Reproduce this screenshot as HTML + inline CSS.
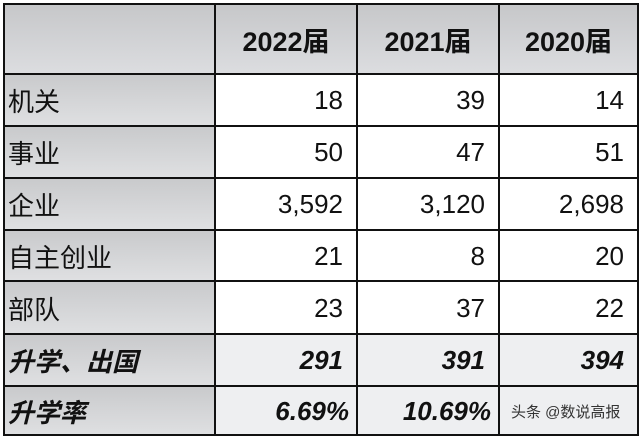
<!DOCTYPE html>
<html><head><meta charset="utf-8"><style>
body{margin:0;width:642px;height:440px;background:#fff;overflow:hidden;font-family:"Liberation Sans","Noto Sans CJK SC",sans-serif;}
.c{position:absolute;box-sizing:border-box;font-size:26px;color:#111;display:flex;align-items:center;}
.l{background:linear-gradient(#c9cacc,#dfe0e2);padding-left:4px;}
.n{justify-content:flex-end;padding-right:14px;}
.h{background:linear-gradient(#c6c7c9,#dcdde0);font-weight:bold;justify-content:center;font-size:27px;}
.g{background:#eeeff1;}
.b{font-weight:bold;font-style:italic;}
.hl{position:absolute;height:2px;background:#111;left:3px;width:636px;}
.vl{position:absolute;width:2px;background:#111;top:3px;height:433px;}
</style></head><body>
<div class="c h" style="left:4px;top:4px;width:211px;height:70px"></div>
<div class="c h" style="left:215px;top:4px;width:142px;height:70px">2022届</div>
<div class="c h" style="left:357px;top:4px;width:142px;height:70px">2021届</div>
<div class="c h" style="left:499px;top:4px;width:139px;height:70px">2020届</div>

<div class="c l" style="left:4px;top:75px;width:211px;height:51px">机关</div>
<div class="c n" style="left:215px;top:75px;width:142px;height:51px">18</div>
<div class="c n" style="left:357px;top:75px;width:142px;height:51px">39</div>
<div class="c n" style="left:499px;top:75px;width:139px;height:51px">14</div>

<div class="c l" style="left:4px;top:127px;width:211px;height:51px">事业</div>
<div class="c n" style="left:215px;top:127px;width:142px;height:51px">50</div>
<div class="c n" style="left:357px;top:127px;width:142px;height:51px">47</div>
<div class="c n" style="left:499px;top:127px;width:139px;height:51px">51</div>

<div class="c l" style="left:4px;top:179px;width:211px;height:51px">企业</div>
<div class="c n" style="left:215px;top:179px;width:142px;height:51px">3,592</div>
<div class="c n" style="left:357px;top:179px;width:142px;height:51px">3,120</div>
<div class="c n" style="left:499px;top:179px;width:139px;height:51px">2,698</div>

<div class="c l" style="left:4px;top:231px;width:211px;height:50px">自主创业</div>
<div class="c n" style="left:215px;top:231px;width:142px;height:50px">21</div>
<div class="c n" style="left:357px;top:231px;width:142px;height:50px">8</div>
<div class="c n" style="left:499px;top:231px;width:139px;height:50px">20</div>

<div class="c l" style="left:4px;top:282px;width:211px;height:52px">部队</div>
<div class="c n" style="left:215px;top:282px;width:142px;height:52px">23</div>
<div class="c n" style="left:357px;top:282px;width:142px;height:52px">37</div>
<div class="c n" style="left:499px;top:282px;width:139px;height:52px">22</div>

<div class="c l b" style="left:4px;top:335px;width:211px;height:51px">升学、出国</div>
<div class="c n g b" style="left:215px;top:335px;width:142px;height:51px">291</div>
<div class="c n g b" style="left:357px;top:335px;width:142px;height:51px">391</div>
<div class="c n g b" style="left:499px;top:335px;width:139px;height:51px">394</div>

<div class="c l b" style="left:4px;top:387px;width:211px;height:48px">升学率</div>
<div class="c n g b" style="left:215px;top:387px;width:142px;height:48px;padding-right:8px">6.69%</div>
<div class="c n g b" style="left:357px;top:387px;width:142px;height:48px;padding-right:8px">10.69%</div>
<div class="c g" style="left:499px;top:387px;width:139px;height:48px;font-size:15px;color:#333;padding-left:12px">头条 @数说高报</div>

<div class="hl" style="top:3px"></div>
<div class="hl" style="top:73px"></div>
<div class="hl" style="top:125px"></div>
<div class="hl" style="top:177px"></div>
<div class="hl" style="top:229px"></div>
<div class="hl" style="top:280px"></div>
<div class="hl" style="top:333px"></div>
<div class="hl" style="top:385px"></div>
<div class="hl" style="top:434px"></div>
<div class="vl" style="left:3px"></div>
<div class="vl" style="left:214px"></div>
<div class="vl" style="left:356px"></div>
<div class="vl" style="left:498px"></div>
<div class="vl" style="left:637px"></div>
</body></html>
